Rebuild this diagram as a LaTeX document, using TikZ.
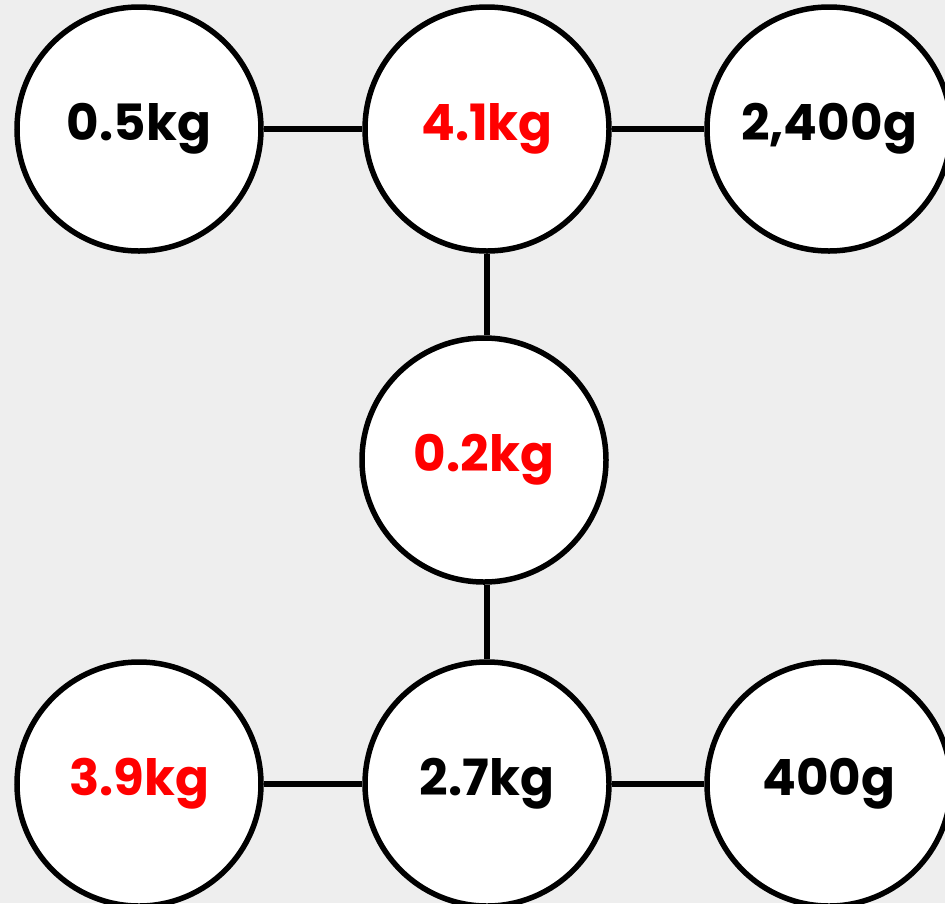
\documentclass[tikz,border=0pt]{standalone}
\usepackage{fontspec}
\setmainfont{Poppins}
\usepackage{tikz}
\usetikzlibrary{backgrounds}
\definecolor{bggrey}{HTML}{EEEEEE}
\definecolor{mark}{HTML}{FF0000}

\begin{document}
\begin{tikzpicture}[x=1pt,y=-1pt,
  weight/.style={circle,draw=black,fill=white,line width=5.5pt,minimum size=244pt,inner sep=0pt,font=\fontsize{50}{60}\selectfont\bfseries},
  link/.style={line width=5.5pt}]
\fill[bggrey] (0,0) rectangle (945,903);
\useasboundingbox (0,0) rectangle (945,903);
\clip (0,0) rectangle (945,903);
% top row
\node[weight] (w1) at (139,129) {0.5kg};
\node[weight,text=mark] (w2) at (487,129) {4.1kg};
\node[weight] (w3) at (829,129) {2,400g};
% middle
\node[weight,text=mark] (w4) at (484,460) {0.2kg};
% bottom row
\node[weight,text=mark] (w5) at (139,784) {3.9kg};
\node[weight] (w6) at (487,784) {2.7kg};
\node[weight] (w7) at (829,784) {400g};
\draw[link] (w1) -- (w2);
\draw[link] (w2) -- (w3);
\draw[link] (w2.south) -- (w4.north-|w2.south);
\draw[link] (w4.south-|w6.north) -- (w6.north);
\draw[link] (w5) -- (w6);
\draw[link] (w6) -- (w7);
\end{tikzpicture}
\end{document}
